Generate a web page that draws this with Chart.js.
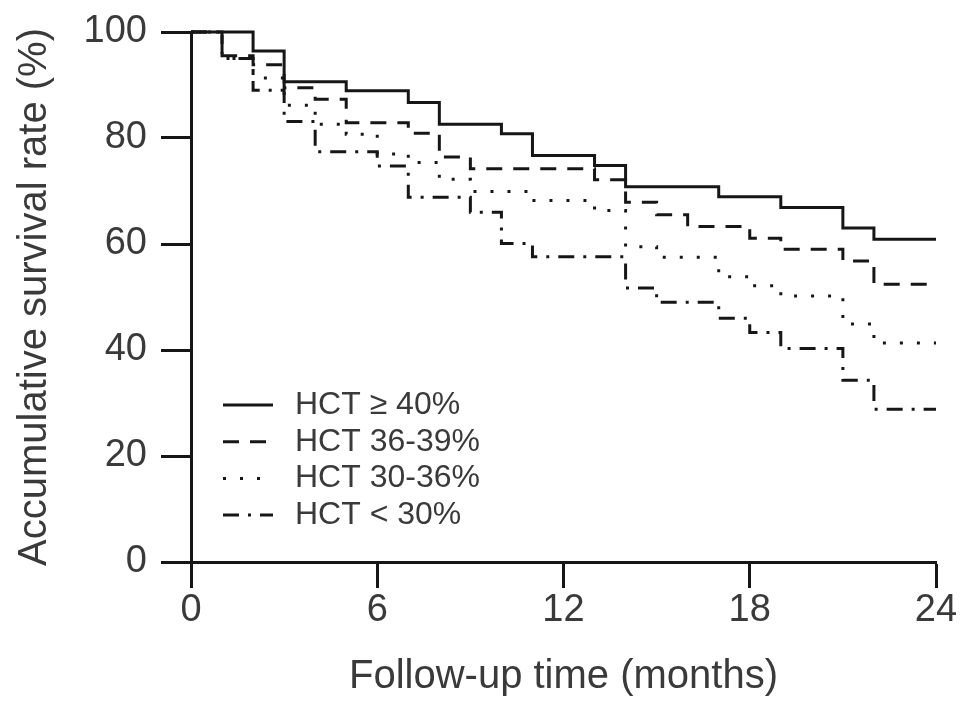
<!DOCTYPE html>
<html>
<head>
<meta charset="utf-8">
<script src="https://cdn.jsdelivr.net/npm/chart.js@4.4.0/dist/chart.umd.min.js"></script>
<style>
html, body { margin: 0; padding: 0; background: #fff; }
#wrap { width: 969px; height: 713px; }
</style>
</head>
<body>
<div id="wrap"><canvas id="chart"></canvas></div>
<script>
// tick labels
let monthTicks = [0, 6, 12, 18, 24];
let rateTicks = [0, 20, 40, 60, 80, 100];

// HCT >= 40%
let timesHigh = [0, 2, 3, 5, 7, 8, 10, 11, 13, 14, 17, 19, 21, 22, 24];
let survHigh = [100, 96.4, 90.6, 88.9, 86.7, 82.6, 80.8, 76.7, 74.8, 70.8, 68.9, 66.9, 63.0, 60.9, 60.9];

// HCT 36-39%
let timesMid = [0, 1, 2, 3, 4, 5, 7, 8, 9, 13, 14, 15, 16, 18, 19, 21, 22, 24];
let survMid = [100, 95.5, 93.8, 89.5, 87.3, 82.9, 80.9, 76.4, 74.2, 72.1, 67.9, 65.5, 63.3, 61.1, 59.0, 56.8, 52.4, 52.4];

// HCT 30-36%
let timesLow = [0, 1, 2, 3, 4, 5, 6, 7, 8, 9, 11, 13, 14, 15, 17, 18, 19, 21, 22, 24];
let survLow = [100, 95, 91.3, 86.2, 82.6, 80.7, 77.0, 75.4, 72.2, 69.9, 68.2, 66.3, 59.5, 57.5, 53.8, 52.1, 50.2, 44.9, 41.3, 41.3];

// HCT < 30%
let timesAnemic = [0, 1, 2, 3, 4, 6, 7, 9, 10, 11, 14, 15, 17, 18, 19, 21, 22, 24];
let survAnemic = [100, 95, 89.0, 83.1, 77.4, 74.7, 68.8, 66.0, 60.1, 57.6, 51.7, 49.0, 46.0, 43.3, 40.3, 34.3, 28.8, 28.8];

let seriesNames = ['HCT \u2265 40%', 'HCT 36-39%', 'HCT 30-36%', 'HCT < 30%'];

const FONT = '"Liberation Sans", Arial, Helvetica, sans-serif';
const TEXT = '#3a3a3a';
const INK = '#161616';

let toPoints = function (times, values) {
    return times.map((t, i) => ({ x: t, y: values[i] }));
};

let makeSet = function (label, times, values, dash) {
    return {
        label: label,
        data: toPoints(times, values),
        stepped: true,
        borderColor: INK,
        borderWidth: 3,
        borderDash: dash,
        borderCapStyle: 'butt',
        pointRadius: 0,
        fill: false,
        clip: false
    };
};

// legend drawn inside the plot, lower left
let insideLegend = {
    id: 'insideLegend',
    afterDraw(chart) {
        const ctx = chart.ctx;
        const area = chart.chartArea;
        const x0 = area.left + 32;
        let y = area.top + 373;
        ctx.save();
        chart.data.datasets.forEach(ds => {
            ctx.beginPath();
            ctx.setLineDash(ds.borderDash);
            ctx.lineWidth = 3;
            ctx.strokeStyle = INK;
            ctx.moveTo(x0, y);
            ctx.lineTo(x0 + 50, y);
            ctx.stroke();
            ctx.setLineDash([]);
            ctx.fillStyle = TEXT;
            ctx.font = '32px ' + FONT;
            ctx.textBaseline = 'middle';
            ctx.textAlign = 'left';
            ctx.fillText(ds.label, x0 + 72, y);
            y += 36.7;
        });
        ctx.restore();
    }
};

let createChart = function () {
    const ctx = document.getElementById('chart');

    new Chart(ctx, {
        type: 'line',
        data: {
            datasets: [
                makeSet(seriesNames[0], timesHigh, survHigh, []),
                makeSet(seriesNames[1], timesMid, survMid, [16, 11]),
                makeSet(seriesNames[2], timesLow, survLow, [3, 14]),
                makeSet(seriesNames[3], timesAnemic, survAnemic, [16, 9, 3, 9])
            ]
        },
        options: {
            responsive: true,
            maintainAspectRatio: false,
            animation: false,
            layout: { padding: { top: 32, right: 33, left: 0, bottom: 0 } },
            plugins: {
                legend: { display: false },
                tooltip: { enabled: false }
            },
            scales: {
                x: {
                    type: 'linear',
                    min: 0,
                    max: 24,
                    afterBuildTicks: s => { s.ticks = monthTicks.map(v => ({ value: v })); },
                    afterFit: s => { s.height = 151; s.paddingLeft = 0; s.paddingRight = 0; },
                    grid: { drawOnChartArea: false, drawTicks: true, tickLength: 26, tickWidth: 3, tickColor: INK },
                    border: { color: INK, width: 3 },
                    ticks: { color: TEXT, font: { family: FONT, size: 38 }, padding: 0, maxRotation: 0 },
                    title: {
                        display: true,
                        text: 'Follow-up time (months)',
                        color: TEXT,
                        font: { family: FONT, size: 40 },
                        padding: { top: 0, bottom: 12 }
                    }
                },
                y: {
                    min: 0,
                    max: 100,
                    afterBuildTicks: s => { s.ticks = rateTicks.map(v => ({ value: v })); },
                    afterFit: s => { s.width = 191; s.paddingTop = 0; s.paddingBottom = 0; },
                    grid: { drawOnChartArea: false, drawTicks: true, tickLength: 30, tickWidth: 3, tickColor: INK },
                    border: { color: INK, width: 3 },
                    ticks: { color: TEXT, font: { family: FONT, size: 38 }, padding: 14 },
                    title: {
                        display: true,
                        text: 'Accumulative survival rate (%)',
                        color: TEXT,
                        font: { family: FONT, size: 40 },
                        padding: { top: 11, bottom: 0 }
                    }
                }
            }
        },
        plugins: [insideLegend]
    });
};

createChart();
</script>
</body>
</html>
